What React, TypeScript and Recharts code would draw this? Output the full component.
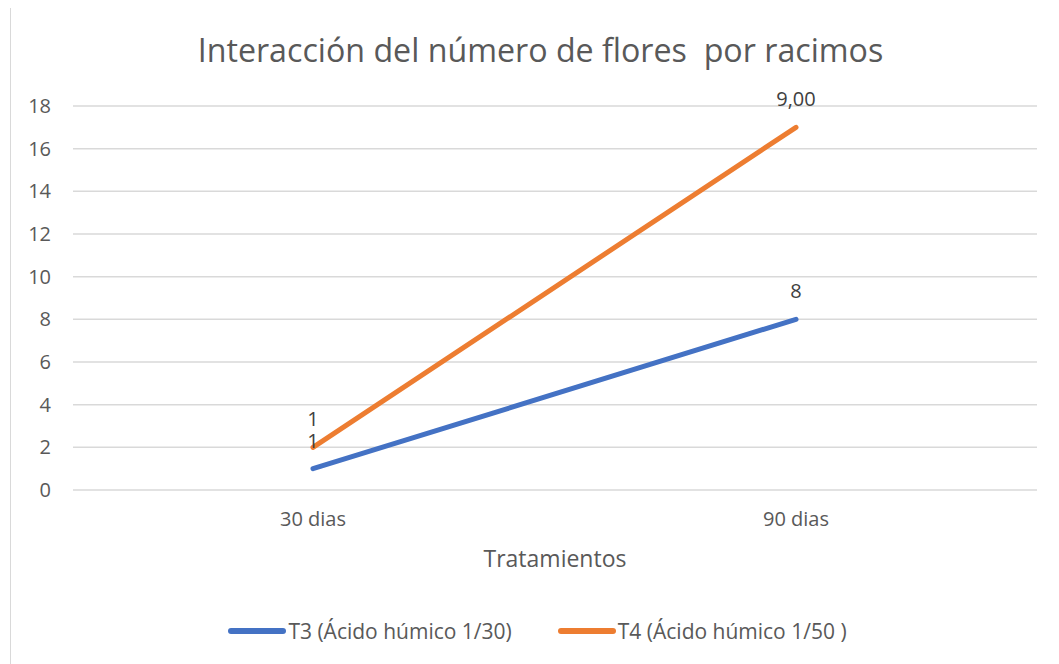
import { LineChart, Line, XAxis, YAxis, CartesianGrid, LabelList } from 'recharts'

const categories = ['30 dias', '90 dias']
const t3Values = [1, 8]
const t4Values = [2, 17]
const t3Labels = ['1', '8']
const t4Labels = ['1', '9,00']
const yTicks = [0, 2, 4, 6, 8, 10, 12, 14, 16, 18]

const series = [
  { key: 't3', name: 'T3 (Ácido húmico 1/30)', color: '#4472C4' },
  { key: 't4', name: 'T4 (Ácido húmico 1/50 )', color: '#ED7D31' },
]

const data = categories.map((c, i) => ({
  name: c,
  t3: t3Values[i],
  t4: t4Values[i],
  t3Label: t3Labels[i],
  t4Label: t4Labels[i],
}))

const FONT = '"Open Sans", sans-serif'
const TEXT = '#595959'

function LegendBox() {
  return (
    <div style={{ display: 'flex', justifyContent: 'center', gap: 46, fontFamily: FONT, fontSize: 21, color: TEXT, paddingLeft: 8 }}>
      {series.map((s) => (
        <div key={s.key} style={{ display: 'flex', alignItems: 'center', whiteSpace: 'pre' }}>
          <svg width={58} height={10} style={{ marginRight: 2 }}>
            <line x1={3} y1={5} x2={55} y2={5} stroke={s.color} strokeWidth={6} strokeLinecap="round" />
          </svg>
          <span>{s.name}</span>
        </div>
      ))}
    </div>
  )
}

export default function App() {
  return (
    <div style={{ position: 'relative', width: 1051, height: 656 }}>
      <div
        style={{
          position: 'absolute',
          left: 2,
          top: -1,
          width: 1100,
          height: 700,
          borderLeft: '1px solid #d9d9d9',
          borderTop: '1px solid #d9d9d9',
        }}
      />
      <div
        style={{
          position: 'absolute',
          left: 0,
          top: 20,
          width: 1051,
          textAlign: 'center',
          fontFamily: FONT,
          fontSize: 32.2,
          color: TEXT,
          whiteSpace: 'pre',
          paddingLeft: 7,
        }}
      >
        {'Interacción del número de flores  por racimos'}
      </div>
      <LineChart
        width={1051}
        height={656}
        data={data}
        margin={{ top: 98, right: 22, left: 0, bottom: 144 }}
        style={{ position: 'absolute', left: 0, top: 0 }}
      >
        <CartesianGrid vertical={false} stroke="#d9d9d9" strokeWidth={1.5} />
        <XAxis
          dataKey="name"
          axisLine={false}
          tickLine={false}
          padding={{ left: 240, right: 241 }}
          tick={{ fontFamily: FONT, fontSize: 20, fill: TEXT }}
          tickMargin={16}
          label={{ value: 'Tratamientos', position: 'insideBottom', offset: -47, fontFamily: FONT, fontSize: 23, fill: TEXT }}
        />
        <YAxis
          width={65}
          domain={[0, 18]}
          ticks={yTicks}
          axisLine={false}
          tickLine={false}
          tickMargin={16}
          tick={{ fontFamily: FONT, fontSize: 20, fill: TEXT }}
        />
        {series.map((s) => (
          <Line
            key={s.key}
            dataKey={s.key}
            name={s.name}
            stroke={s.color}
            strokeWidth={5}
            strokeLinecap="round"
            dot={false}
            activeDot={false}
            isAnimationActive={false}
          >
            <LabelList dataKey={`${s.key}Label`} position="top" offset={21} fontFamily={FONT} fontSize={20} fill="#404040" />
          </Line>
        ))}
      </LineChart>
      <div style={{ position: 'absolute', left: 0, top: 609, width: 1051 }}>
        <LegendBox />
      </div>
    </div>
  )
}
